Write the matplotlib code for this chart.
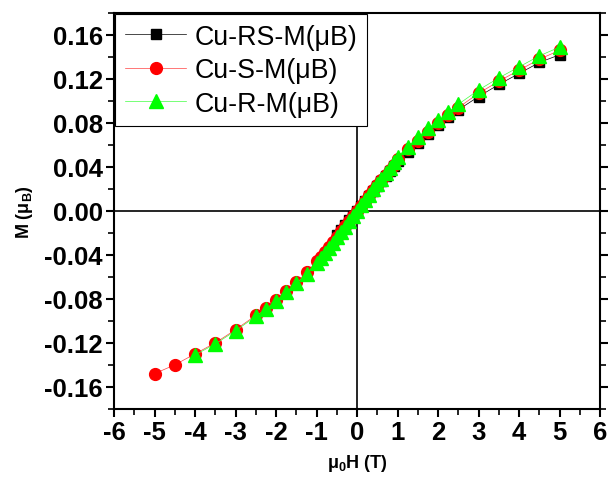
import matplotlib
matplotlib.use("Agg")
import matplotlib.pyplot as plt
from matplotlib.ticker import MultipleLocator, FormatStrFormatter

plt.rcParams['font.family'] = ['Liberation Sans', 'DejaVu Sans']
plt.rcParams['axes.unicode_minus'] = False
plt.rcParams['mathtext.fontset'] = 'custom'
plt.rcParams['mathtext.rm'] = 'Liberation Sans:bold'
plt.rcParams['mathtext.bf'] = 'Liberation Sans:bold'
plt.rcParams['mathtext.default'] = 'rm'

# Cu-RS-M(μB) (black squares)
x_rs = [-0.5, -0.4, -0.3, -0.2, -0.1, 0.0, 0.1, 0.2, 0.3, 0.4, 0.5, 0.6, 0.7, 0.8, 0.9, 1.0,
        1.25, 1.5, 1.75, 2.0, 2.25, 2.5, 3.0, 3.5, 4.0, 4.5, 5.0]
m_rs = [-0.022, -0.0175, -0.013, -0.0087, -0.0043, 0.0, 0.0045, 0.009, 0.0135, 0.018, 0.0225,
        0.027, 0.0315, 0.036, 0.0405, 0.045, 0.054, 0.062, 0.070, 0.078, 0.085, 0.092,
        0.104, 0.115, 0.125, 0.135, 0.142]

# Cu-S-M(μB) (red circles)
x_s = [-5.0, -4.5, -4.0, -3.5, -3.0, -2.5, -2.25, -2.0, -1.75, -1.5, -1.25, -1.0, -0.9, -0.8,
       -0.7, -0.6, -0.5, -0.4, -0.3, -0.2, -0.1, 0.0, 0.1, 0.2, 0.3, 0.4, 0.5, 0.6, 0.7, 0.8,
       0.9, 1.0, 1.25, 1.5, 1.75, 2.0, 2.25, 2.5, 3.0, 3.5, 4.0, 4.5, 5.0]
m_s = [-0.148, -0.140, -0.130, -0.120, -0.108, -0.095, -0.088, -0.081, -0.073, -0.065, -0.056,
       -0.046, -0.042, -0.037, -0.033, -0.028, -0.0235, -0.0187, -0.014, -0.0093, -0.0046, 0.0,
       0.0047, 0.0094, 0.014, 0.0188, 0.0235, 0.028, 0.033, 0.0375, 0.042, 0.047, 0.056, 0.064,
       0.072, 0.080, 0.087, 0.094, 0.107, 0.118, 0.128, 0.138, 0.146]

# Cu-R-M(μB) (green triangles)
x_r = [-4.0, -3.5, -3.0, -2.5, -2.25, -2.0, -1.75, -1.5, -1.25, -1.0, -0.9, -0.8, -0.7, -0.6,
       -0.5, -0.4, -0.3, -0.2, -0.1, 0.0, 0.1, 0.2, 0.3, 0.4, 0.5, 0.6, 0.7, 0.8, 0.9, 1.0,
       1.25, 1.5, 1.75, 2.0, 2.25, 2.5, 3.0, 3.5, 4.0, 4.5, 5.0]
m_r = [-0.131, -0.121, -0.109, -0.096, -0.089, -0.082, -0.074, -0.066, -0.057, -0.047, -0.043,
       -0.038, -0.034, -0.029, -0.024, -0.019, -0.0143, -0.0095, -0.0048, 0.0, 0.005, 0.0098,
       0.0147, 0.0196, 0.0245, 0.029, 0.034, 0.039, 0.044, 0.049, 0.058, 0.067, 0.075, 0.083,
       0.090, 0.097, 0.110, 0.121, 0.131, 0.141, 0.149]

labels = ['Cu-RS-M(μB)', 'Cu-S-M(μB)', 'Cu-R-M(μB)']

fig = plt.figure(figsize=(6.1, 4.81), dpi=100)
ax = fig.add_axes([0.187, 0.148, 0.797, 0.823])

ax.axhline(0, color='black', lw=1.2, zorder=1)
ax.axvline(0, color='black', lw=1.2, zorder=1)

ax.plot(x_rs, m_rs, color='black', lw=0.5, marker='s', ms=7, mfc='black', mec='black',
        label=labels[0], zorder=3)
ax.plot(x_s, m_s, color='#ff4040', lw=0.5, marker='o', ms=8.5, mfc='#ff0000', mec='#ff0000',
        label=labels[1], zorder=4)
ax.plot(x_r, m_r, color='#40ff40', lw=0.5, marker='^', ms=10.5, mfc='#00ff00', mec='#00ff00',
        label=labels[2], zorder=5)

ax.set_xlim(-6, 6)
ax.set_ylim(-0.18, 0.18)
ax.xaxis.set_major_locator(MultipleLocator(1))
ax.xaxis.set_minor_locator(MultipleLocator(0.5))
ax.yaxis.set_major_locator(MultipleLocator(0.04))
ax.yaxis.set_minor_locator(MultipleLocator(0.02))
ax.yaxis.set_major_formatter(FormatStrFormatter('%.2f'))

for s in ax.spines.values():
    s.set_linewidth(1.5)

ax.tick_params(which='major', direction='out', length=6, width=1.5, labelsize=18.5, pad=2)
ax.tick_params(which='minor', direction='out', length=4, width=1.2)
ax.tick_params(axis='y', which='both', right=True, labelright=False)
for lab in ax.get_xticklabels() + ax.get_yticklabels():
    lab.set_fontweight('bold')

ax.set_xlabel('μ$_0$H (T)', fontsize=13, fontweight='bold', labelpad=6)
ax.set_ylabel('M (μ$_B$)', fontsize=13, fontweight='bold', labelpad=7)

leg = ax.legend(loc='upper left', fontsize=19.3, frameon=True, fancybox=False,
                edgecolor='black', framealpha=1, borderpad=0.35, labelspacing=0.28,
                handlelength=2.3, handletextpad=0.3, borderaxespad=0.05)
leg.get_frame().set_linewidth(0.8)

fig.savefig('out.png', dpi=100)
